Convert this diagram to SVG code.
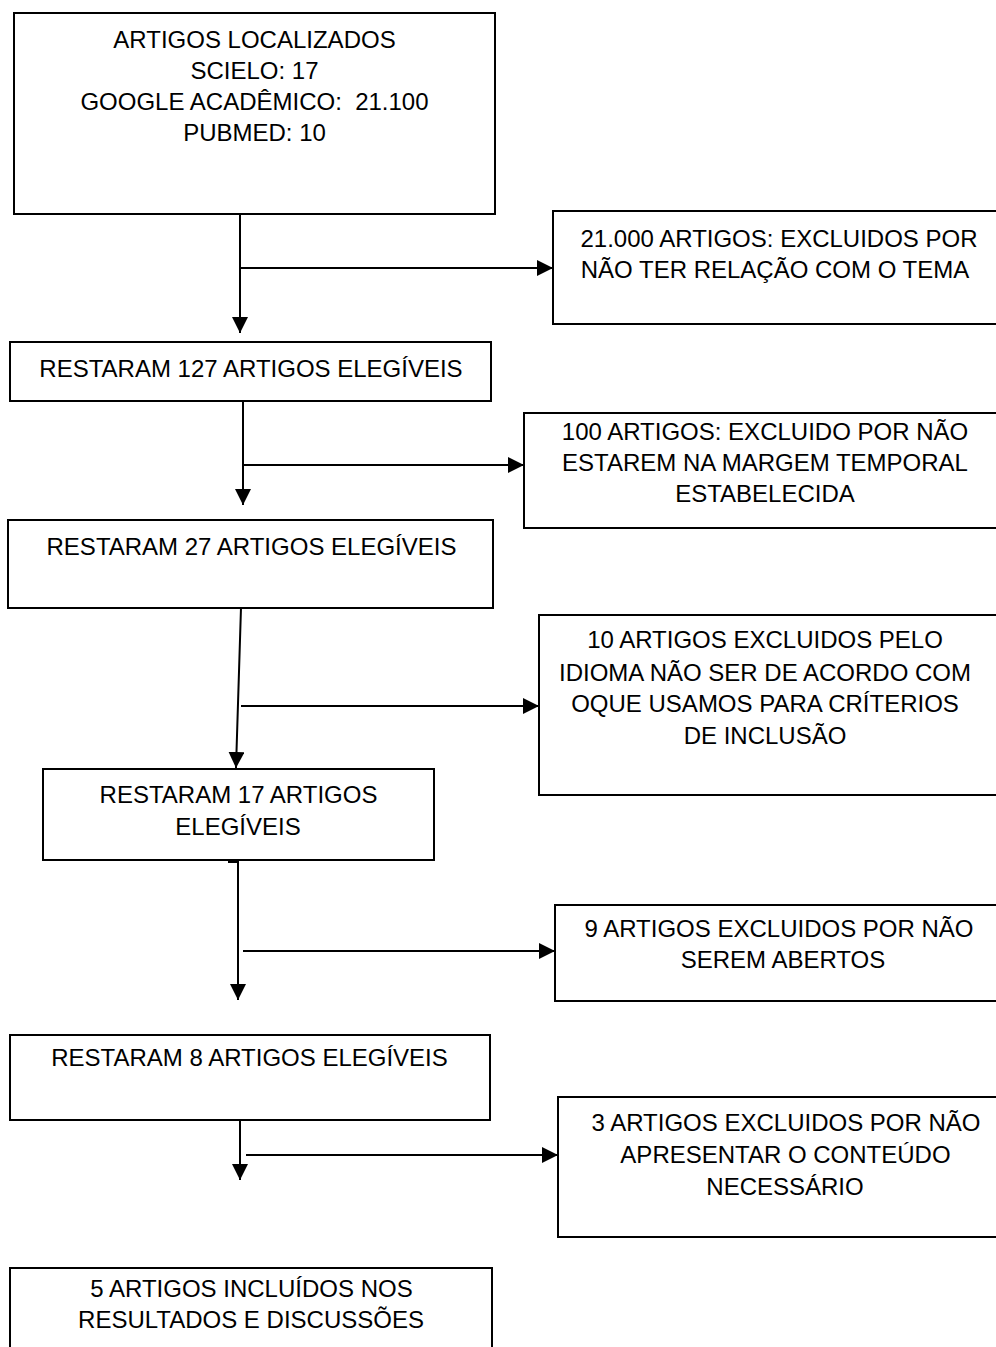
<svg xmlns="http://www.w3.org/2000/svg" width="996" height="1347" viewBox="0 0 996 1347">
<defs>
<marker id="arr" markerUnits="userSpaceOnUse" markerWidth="16" markerHeight="16" refX="16" refY="8" orient="auto">
<path d="M0,0 L16,8 L0,16 z" fill="#000"/>
</marker>
<style>
.box{fill:#fff;stroke:#000;stroke-width:2}
.t{font-family:"Liberation Sans",Arial,sans-serif;font-size:24px;fill:#000;text-anchor:middle}
.c{fill:none;stroke:#000;stroke-width:2}
.a{marker-end:url(#arr)}
</style>
</defs>
<rect width="996" height="1347" fill="#fff"/>
<g id="connectors">
<line class="c a" x1="240" y1="214" x2="240" y2="333"/>
<line class="c a" x1="240" y1="268" x2="553" y2="268"/>
<line class="c a" x1="243" y1="401" x2="243" y2="505"/>
<line class="c a" x1="243" y1="465" x2="524" y2="465"/>
<line class="c a" x1="241" y1="608" x2="236" y2="768"/>
<line class="c a" x1="241" y1="706" x2="539" y2="706"/>
<polyline class="c a" points="229,853 229,862 238,862 238,1000"/>
<line class="c a" x1="243" y1="951" x2="555" y2="951"/>
<line class="c a" x1="240" y1="1120" x2="240" y2="1180"/>
<line class="c a" x1="246" y1="1155" x2="558" y2="1155"/>
</g>
<g id="n1"><rect class="box" x="14" y="13" width="481" height="201"/>
<text class="t" x="254.5" y="48">ARTIGOS LOCALIZADOS</text>
<text class="t" x="254.5" y="79">SCIELO: 17</text>
<text class="t" x="254.5" y="110" xml:space="preserve">GOOGLE ACADÊMICO:  21.100</text>
<text class="t" x="254.5" y="141">PUBMED: 10</text></g>
<g id="n2"><rect class="box" x="553" y="211" width="460" height="113"/>
<text class="t" x="779" y="247">21.000 ARTIGOS: EXCLUIDOS POR</text>
<text class="t" x="775" y="278">NÃO TER RELAÇÃO COM O TEMA</text></g>
<g id="n3"><rect class="box" x="10" y="342" width="481" height="59"/>
<text class="t" x="251" y="377">RESTARAM 127 ARTIGOS ELEGÍVEIS</text></g>
<g id="n4"><rect class="box" x="524" y="413" width="490" height="115"/>
<text class="t" x="765" y="440">100 ARTIGOS: EXCLUIDO POR NÃO</text>
<text class="t" x="765" y="471">ESTAREM NA MARGEM TEMPORAL</text>
<text class="t" x="765" y="502">ESTABELECIDA</text></g>
<g id="n5"><rect class="box" x="8" y="520" width="485" height="88"/>
<text class="t" x="251.5" y="555">RESTARAM 27 ARTIGOS ELEGÍVEIS</text></g>
<g id="n6"><rect class="box" x="539" y="615" width="475" height="180"/>
<text class="t" x="765" y="648">10 ARTIGOS EXCLUIDOS PELO</text>
<text class="t" x="765" y="681">IDIOMA NÃO SER DE ACORDO COM</text>
<text class="t" x="765" y="712">OQUE USAMOS PARA CRÍTERIOS</text>
<text class="t" x="765" y="744">DE INCLUSÃO</text></g>
<g id="n7"><rect class="box" x="43" y="769" width="391" height="91"/>
<text class="t" x="238.5" y="803">RESTARAM 17 ARTIGOS</text>
<text class="t" x="238" y="835">ELEGÍVEIS</text></g>
<g id="n8"><rect class="box" x="555" y="905" width="460" height="96"/>
<text class="t" x="779" y="937">9 ARTIGOS EXCLUIDOS POR NÃO</text>
<text class="t" x="783" y="968">SEREM ABERTOS</text></g>
<g id="n9"><rect class="box" x="10" y="1035" width="480" height="85"/>
<text class="t" x="249.5" y="1066">RESTARAM 8 ARTIGOS ELEGÍVEIS</text></g>
<g id="n10"><rect class="box" x="558" y="1097" width="455" height="140"/>
<text class="t" x="786" y="1131">3 ARTIGOS EXCLUIDOS POR NÃO</text>
<text class="t" x="785.5" y="1163">APRESENTAR O CONTEÚDO</text>
<text class="t" x="785" y="1195">NECESSÁRIO</text></g>
<g id="n11"><rect class="box" x="10" y="1268" width="482" height="100"/>
<text class="t" x="251.5" y="1297">5 ARTIGOS INCLUÍDOS NOS</text>
<text class="t" x="251" y="1328">RESULTADOS E DISCUSSÕES</text></g>
</svg>
